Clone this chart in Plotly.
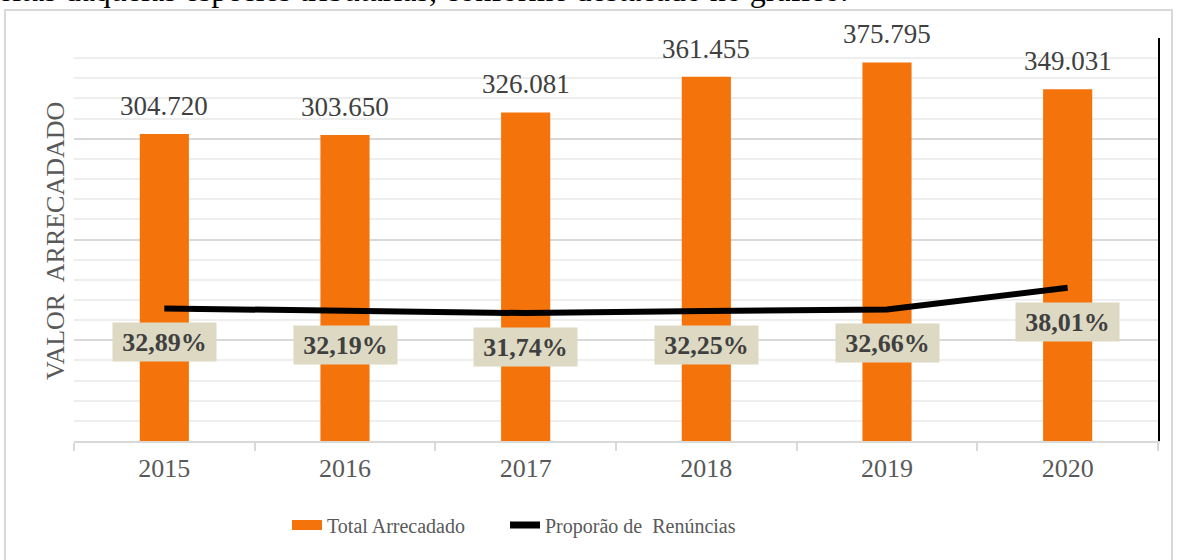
import plotly.graph_objects as go

years = ["2015", "2016", "2017", "2018", "2019", "2020"]
total_arrecadado = [304720, 303650, 326081, 361455, 375795, 349031]
proporcao_renuncias = [0.3289, 0.3219, 0.3174, 0.3225, 0.3266, 0.3801]

SERIF = "Liberation Serif"
ORANGE = "#F4730B"

L, R, T, B = 74, 19, 38, 119
W, H = 1177, 560
pw, ph = W - L - R, H - T - B


def px_x(p):
    return (p - L) / pw


def px_y(p):
    return (H - B - p) / ph


fig = go.Figure()
fig.add_trace(go.Bar(
    x=years, y=total_arrecadado, name="Total Arrecadado",
    marker=dict(color=ORANGE, line=dict(width=0)), width=0.272,
    showlegend=False, yaxis="y",
))
fig.add_trace(go.Scatter(
    x=years, y=proporcao_renuncias, name="Proporão de  Renúncias",
    mode="lines", line=dict(color="black", width=6), yaxis="y2",
    showlegend=False,
))
# legend proxies (no visible marks)
fig.add_trace(go.Scatter(x=[years[0]], y=[None], mode="lines", name="Total Arrecadado",
                         line=dict(color=ORANGE, width=12), yaxis="y", legend="legend"))
fig.add_trace(go.Scatter(x=[years[0]], y=[None], mode="lines", name="Proporão de  Renúncias",
                         line=dict(color="black", width=7), yaxis="y", legend="legend2"))

annotations = []
for i, v in enumerate(total_arrecadado):
    annotations.append(dict(
        x=i, y=v, xref="x", yref="y", text=f"{v:,}".replace(",", "."),
        showarrow=False, yanchor="middle", yshift=28,
        font=dict(family=SERIF, size=27, color="#404040"),
    ))
for i, p in enumerate(proporcao_renuncias):
    annotations.append(dict(
        x=i, y=p, xref="x", yref="y2",
        text="<b>" + f"{p*100:.2f}".replace(".", ",") + "%</b>",
        showarrow=False, yanchor="middle", yshift=-34,
        bgcolor="#DDD9C3", width=95, height=30, borderpad=4,
        font=dict(family=SERIF, size=26, color="#404040"),
    ))
annotations.append(dict(
    x=px_x(55), y=px_y(241), xref="paper", yref="paper", textangle=-90,
    text="VALOR  ARRECADADO", showarrow=False, xanchor="center", yanchor="middle",
    font=dict(family=SERIF, size=26, color="#595959"),
))
annotations.append(dict(
    x=px_x(-4), y=px_y(10), xref="paper", yref="paper", xanchor="left", yanchor="bottom",
    text="eitas daquelas espécies tributárias, conforme destacado no gráfico.",
    showarrow=False, font=dict(family=SERIF, size=32, color="black"),
))

legend_font = dict(family=SERIF, size=20, color="#595959")
fig.update_layout(
    width=W, height=H,
    margin=dict(l=L, r=R, t=T, b=B, pad=0, autoexpand=False),
    paper_bgcolor="white", plot_bgcolor="white",
    xaxis=dict(
        type="category", categoryorder="array", categoryarray=years,
        range=[-0.5, len(years) - 0.5],
        showline=True, linecolor="#D9D9D9", linewidth=2,
        ticks="outside", tickson="boundaries", ticklen=8, tickwidth=2, tickcolor="#D9D9D9",
        tickfont=dict(family=SERIF, size=26, color="#595959"), tickangle=0,
        ticklabelstandoff=3,
        showgrid=False, fixedrange=True,
    ),
    yaxis=dict(
        range=[0, 400000], dtick=100000, showticklabels=False, showline=False,
        showgrid=True, gridcolor="#D9D9D9", gridwidth=2, zeroline=False,
        minor=dict(dtick=20000, showgrid=True, gridcolor="#EEEEEE", gridwidth=2),
    ),
    yaxis2=dict(
        range=[0, 1], overlaying="y", side="right", showticklabels=False,
        showgrid=False, zeroline=False, showline=True, linecolor="black", linewidth=2,
        ticks="",
    ),
    legend=dict(
        orientation="h", x=px_x(287), xanchor="left", y=px_y(525), yanchor="middle",
        font=legend_font, bgcolor="rgba(0,0,0,0)",
    ),
    legend2=dict(
        orientation="h", x=px_x(505), xanchor="left", y=px_y(525), yanchor="middle",
        font=legend_font, bgcolor="rgba(0,0,0,0)",
    ),
    annotations=annotations,
    shapes=[dict(
        type="rect", xref="paper", yref="paper",
        x0=px_x(5), x1=px_x(1172), y0=px_y(570), y1=px_y(10),
        line=dict(color="#D9D9D9", width=2), fillcolor="rgba(0,0,0,0)", layer="below",
    )],
)

fig.write_html("out.html", config={"displayModeBar": False},
               post_script="document.body.style.margin='0';")
